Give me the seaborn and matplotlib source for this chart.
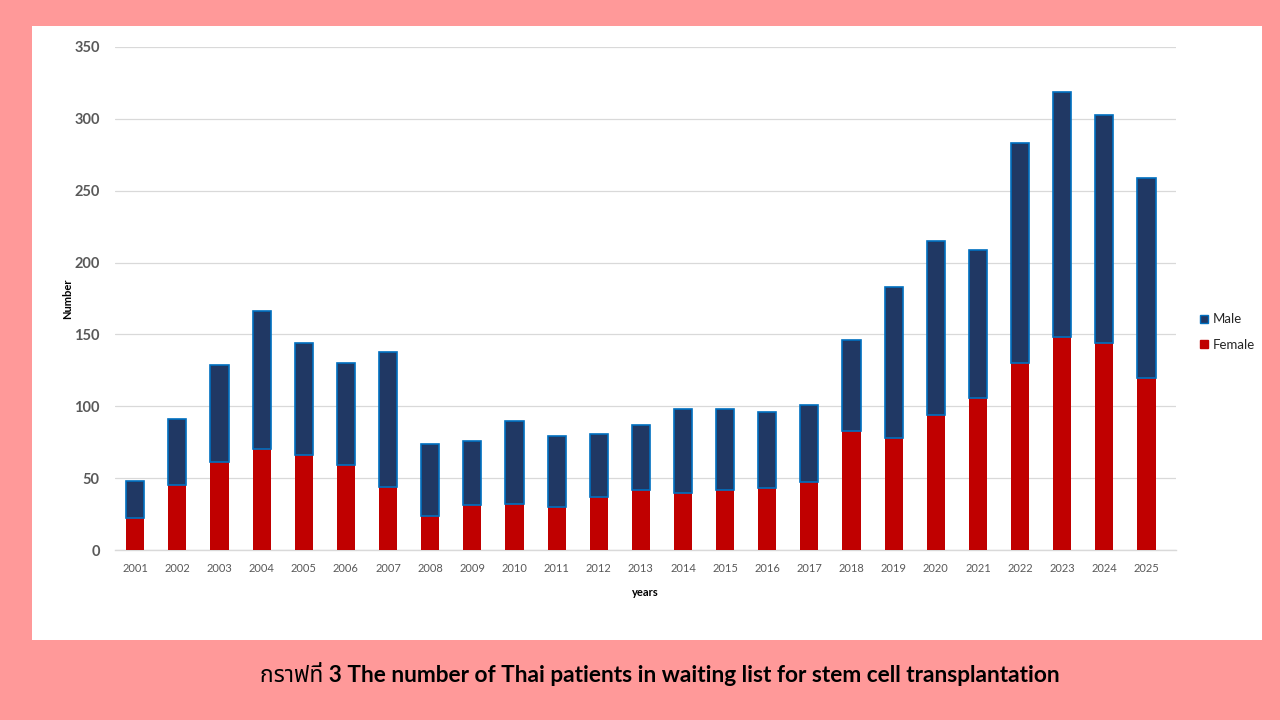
import numpy as np
import pandas as pd
import matplotlib
matplotlib.use("Agg")
import matplotlib.pyplot as plt
import seaborn as sns
from matplotlib.patches import Rectangle, Patch

# --- DATA ---
years = [str(y) for y in range(2001, 2026)]
female = [22, 45, 61, 70, 66, 59, 44, 24, 31, 32, 30, 37, 42, 40, 42, 43, 47,
          83, 78, 94, 106, 130, 148, 144, 120]
total = [48, 91, 129, 166, 144, 130, 138, 74, 76, 90, 79, 81, 87, 98, 98, 96, 101,
         146, 183, 215, 209, 283, 319, 303, 259]
male = [t - f for t, f in zip(total, female)]
y_ticks = [0, 50, 100, 150, 200, 250, 300, 350]

caption = "กราฟที่ 3 The number of Thai patients in waiting list for stem cell transplantation"

FEMALE_C = "#C00000"
MALE_C = "#203864"
EDGE_C = "#0070C0"
BG = "#FF9999"

sns.set_theme(style="white")
plt.rcParams['font.family'] = ['Lato', 'Noto Sans Thai', 'DejaVu Sans']

df = pd.DataFrame({"year": years, "Female": female, "Male": male})

fig = plt.figure(figsize=(12.8, 7.2), dpi=100, facecolor=BG)
# white chart panel
fig.patches.append(Rectangle((32 / 1280, 1 - 640 / 720), 1230 / 1280, 614 / 720,
                             transform=fig.transFigure, facecolor="white",
                             edgecolor="none", zorder=-5))

ax = fig.add_axes([115 / 1280, 1 - 550 / 720, (1176 - 115) / 1280, (550 - 47) / 720])
ax.set_facecolor("none")

# stacked bars: female at the bottom, male on top
sns.barplot(data=df, x="year", y="Female", color=FEMALE_C, width=0.43,
            saturation=1, ax=ax, zorder=3, linewidth=0)
pos = np.arange(len(years))
ax.bar(pos, df["Male"], bottom=df["Female"], width=0.43, color=MALE_C,
       edgecolor=EDGE_C, linewidth=1.2, zorder=3)

ax.set_ylim(0, 350)
ax.set_xlim(-0.48, 24.7)
ax.set_yticks(y_ticks)
ax.set_yticklabels([str(v) for v in y_ticks], fontsize=10.5, fontweight="bold",
                   color="#595959")
ax.set_xticks(pos)
ax.set_xticklabels(years, fontsize=8, color="#595959")
ax.tick_params(axis="both", length=0)
ax.tick_params(axis="x", pad=9)
ax.tick_params(axis="y", pad=11)
ax.grid(axis="y", color="#D9D9D9", linewidth=0.9, zorder=0)
for s in ["top", "right", "left"]:
    ax.spines[s].set_visible(False)
ax.spines["bottom"].set_color("#D9D9D9")
ax.spines["bottom"].set_linewidth(1)

ax.set_xlabel("years", fontsize=8, fontweight="bold", color="black", labelpad=10)
ax.set_ylabel("Number", fontsize=8, fontweight="bold", color="black", labelpad=1)

handles = [Patch(facecolor=MALE_C, edgecolor=EDGE_C, label="Male"),
           Patch(facecolor=FEMALE_C, edgecolor=FEMALE_C, label="Female")]
fig.legend(handles=handles, loc="center left",
           bbox_to_anchor=(1188 / 1280, 1 - 332 / 720), frameon=False,
           fontsize=9.5, handlelength=0.6, handleheight=0.6,
           handletextpad=0.4, labelspacing=1.0)

fig.text(660 / 1280, 1 - 674 / 720, caption, ha="center", va="center",
         fontsize=16.3, fontweight="bold", color="black",
         family=['Lato', 'Noto Sans Thai', 'DejaVu Sans'])

fig.savefig("out.png", dpi=100, facecolor=BG)
